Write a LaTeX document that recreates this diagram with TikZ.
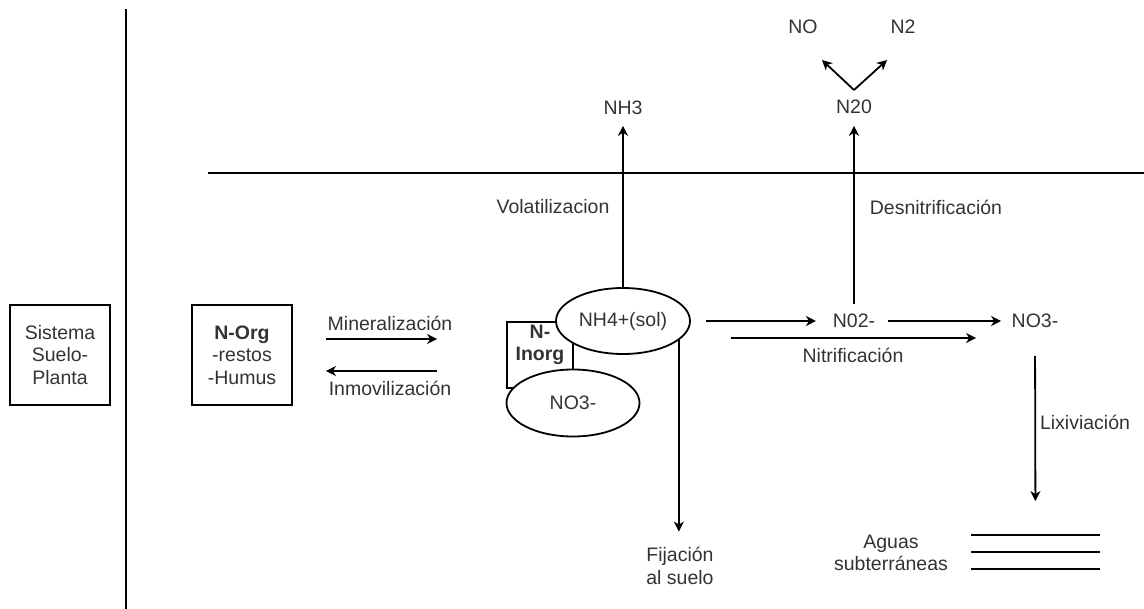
\documentclass[tikz,border=0pt]{standalone}
\usepackage{fontspec}
\setmainfont{Liberation Sans}
\usetikzlibrary{shapes.geometric,arrows.meta,positioning}
\newcommand\txtsize{\fontsize{19.5}{22.5}\selectfont}

\begin{document}
\begin{tikzpicture}[x=1pt,y=-1pt,line width=1.8pt,on grid,
  >={Stealth[length=10pt,width=10pt,inset=3pt]},
  every node/.style={font=\txtsize,text=black!80,inner sep=3pt},
  box/.style={draw,minimum width=100pt,minimum height=100pt,align=center},
  pool/.style={draw,ellipse,fill=white,inner sep=0pt}]
  \useasboundingbox (0,0) rectangle (1144,609);
  % limits: sistema | suelo / atmosfera
  \draw (126,9) -- (126,609);
  \draw (208,173) -- (1144,173);
  \node[box] (sistema) at (60,355) {Sistema\\Suelo-\\Planta};
  \node[box] (norg) at (242,355) {\textbf{N-Org}\\-restos\\-Humus};
  \node[draw,minimum size=66pt] (inorg) at (540,355) {};
  \node[align=center] (inorglbl) at (540,345) {\textbf{N-}\\\textbf{Inorg}};
  \node[pool,minimum width=134pt,minimum height=66pt] (nh4) at (623,321) {NH4+(sol)};
  \node[pool,minimum width=133pt,minimum height=67pt] (no3s) at (573,403) {NO3-};
  \node (nh3) at (623,108) {NH3};
  \node (no2) at (854,321) {N02-};
  \node (no3) [right=181pt of no2] {NO3-};
  \node (n2o) at (854,107) {N20};
  \node (no) at (803,27) {NO};
  \node (n2) [right=100pt of no] {N2};
  \node[align=center] (fij) at (680,566) {Fijación\\al suelo};
  \node[minimum width=127pt,minimum height=32pt,inner sep=0pt] (agua) at (1035.5,552) {};
  \node[align=center] (aguatxt) at (891,553) {Aguas\\subterráneas};
  % procesos
  \node (mine) at (390,323) {Mineralización};
  \node (inmo) at (390,388) {Inmovilización};
  \node (vol) at (553,207) {Volatilizacion};
  \node (des) at (936,207) {Desnitrificación};
  \node (nitr) at (853,355) {Nitrificación};
  \node (lix) at (1085,422) {Lixiviación};
  \coordinate (v) at (854,90);
  \coordinate (tipno) at (822,60);
  \coordinate (tipn2) at (887,60);
  \draw (agua.north west) -- (agua.north east)
        (agua.west) -- (agua.east)
        (agua.south west) -- (agua.south east);
  \path[->]
  ([shift={(33,-16)}]norg.east) edge ([shift={(-69,-16)}]inorg.west)
  ([shift={(-69,16)}]inorg.west) edge ([shift={(33,16)}]norg.east)
  (nh4.north) edge [shorten >=7pt] (nh3.south)
  (nh4.-19) edge [shorten >=12pt] (nh4.-19 |- fij.north)
  (nh4.east) edge [shorten <=15pt,shorten >=13pt] (no2.west)
  ([shift={(40,17)}]nh4.east) edge ([shift={(-31.7,17)}]no3.west)
  (no2.east) edge [shorten <=9pt,shorten >=6.7pt] (no3.west)
  (no2.north) edge [shorten <=6pt,shorten >=8pt] (n2o.south)
  (v) edge (tipno)
  (v) edge (tipn2)
  (no3.south) edge [shorten <=24pt,shorten >=34pt] (agua.north)
  ;
\end{tikzpicture}
\end{document}
